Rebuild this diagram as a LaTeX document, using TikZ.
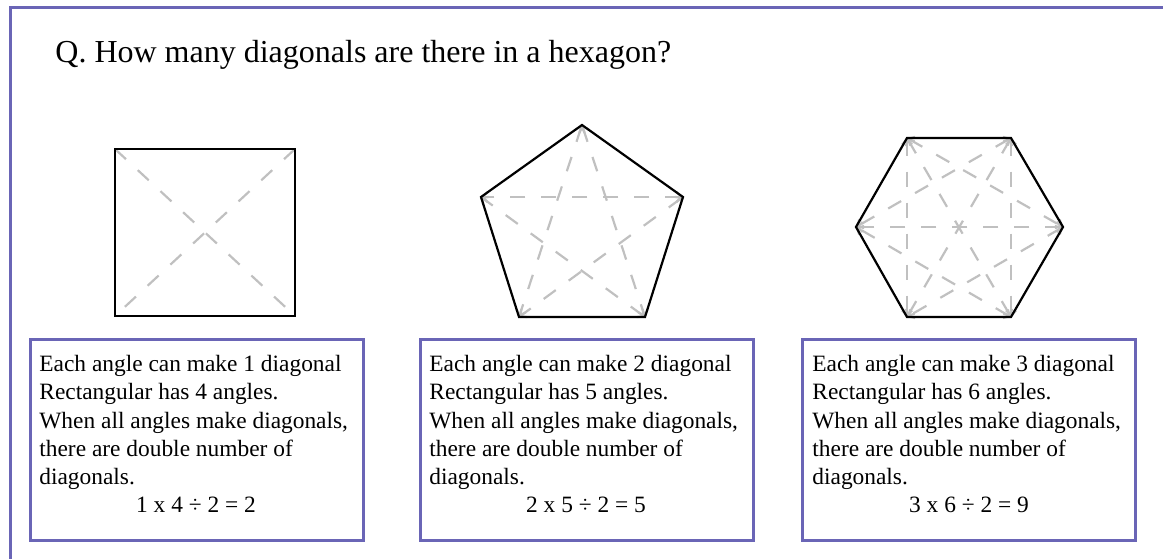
\documentclass[tikz,border=0pt]{standalone}
\usepackage{fontspec}
\setmainfont{Liberation Serif}
\usetikzlibrary{arrows.meta}
\definecolor{framepurple}{RGB}{106,101,182}
\definecolor{diaggray}{RGB}{192,192,192}
\begin{document}
\begin{tikzpicture}[x=0.5pt, y=-0.5pt,
    outline/.style={draw=black, line width=1.1pt, line join=miter},
    diag/.style={draw=diaggray, line width=1.1pt, dash pattern=on 7.5pt off 8pt},
    diagtip/.style={diag, {Straight Barb[length=2.5pt,width=5pt]}-{Straight Barb[length=2.5pt,width=5pt]}},
    infobox/.style={draw=framepurple, line width=1.5pt, minimum width=333*0.5pt, minimum height=201*0.5pt, inner sep=0pt},
    infotext/.style={anchor=north west, inner sep=0pt, align=left, font=\fontsize{11.7pt}{14.15pt}\selectfont},
    sumtext/.style={anchor=base, inner sep=0pt, font=\fontsize{11.7pt}{14.15pt}\selectfont}]
        \useasboundingbox (0,0) rectangle (1163,558);
        \clip (0,0) rectangle (1163,558);
        % Outer frame (only top and left edge visible)
        \draw[draw=framepurple, line width=1.5pt] (10,620) -- (10,7.5) -- (1220,7.5);

        % Question
        \node[anchor=base west, inner sep=0pt, font=\fontsize{16pt}{19pt}\selectfont] (question) at (55,62) {Q. How many diagonals are there in a hexagon?};

        % Square
        \coordinate (s1) at (115,149);
        \coordinate (s2) at (295,149);
        \coordinate (s3) at (295,316);
        \coordinate (s4) at (115,316);
        \draw[diag] (s1) -- (s3);
        \draw[diag] (s2) -- (s4);
        \draw[outline] (s1) -- (s2) -- (s3) -- (s4) -- cycle;

        % Pentagon
        \coordinate (p1) at (582,125);
        \coordinate (p2) at (683,197);
        \coordinate (p3) at (645,317);
        \coordinate (p4) at (519,317);
        \coordinate (p5) at (481,197);
        \foreach \a/\b in {1/3,1/4,2/4,2/5,3/5}
            \draw[diagtip] (p\a) -- (p\b);
        \draw[outline] (p1) -- (p2) -- (p3) -- (p4) -- (p5) -- cycle;

        % Hexagon
        \coordinate (h1) at (907,138);
        \coordinate (h2) at (1011,138);
        \coordinate (h3) at (1063,227);
        \coordinate (h4) at (1011,317);
        \coordinate (h5) at (907,317);
        \coordinate (h6) at (856,227);
        \foreach \a/\b in {1/3,1/4,1/5,2/4,2/5,2/6,3/5,3/6,4/6}
            \draw[diagtip] (h\a) -- (h\b);
        \draw[outline] (h1) -- (h2) -- (h3) -- (h4) -- (h5) -- (h6) -- cycle;

        % Explanation boxes
        \node[infobox] (boxA) at (196.5,439.5) {};
        \node[infobox] (boxB) at (587,439.5) {};
        \node[infobox] (boxC) at (969,439.5) {};
        \node[infotext] (textA) at (39,355) {Each angle can make 1 diagonal\\ Rectangular has 4 angles.\\ When all angles make diagonals,\\ there are double number of\\ diagonals.};
        \node[infotext] (textB) at (429,355) {Each angle can make 2 diagonal\\ Rectangular has 5 angles.\\ When all angles make diagonals,\\ there are double number of\\ diagonals.};
        \node[infotext] (textC) at (812,355) {Each angle can make 3 diagonal\\ Rectangular has 6 angles.\\ When all angles make diagonals,\\ there are double number of\\ diagonals.};
        \node[sumtext] (sumA) at (196,512) {1 x 4 ÷ 2 = 2};
        \node[sumtext] (sumB) at (586,512) {2 x 5 ÷ 2 = 5};
        \node[sumtext] (sumC) at (969,512) {3 x 6 ÷ 2 = 9};
\end{tikzpicture}
\end{document}
